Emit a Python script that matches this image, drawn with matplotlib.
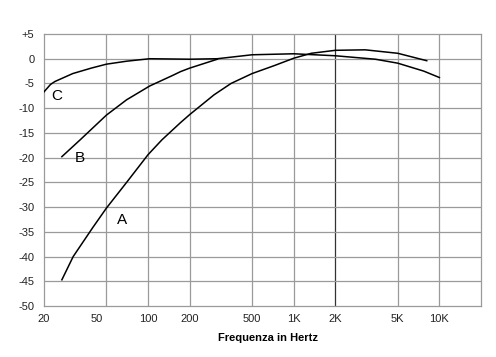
import numpy as np
import matplotlib
matplotlib.use("Agg")
import matplotlib.pyplot as plt
from matplotlib.transforms import ScaledTranslation

# frequency grid of the chart (Hz) and the uneven spacing it is drawn with
grid_freqs = [20, 50, 100, 200, 500, 1000, 2000, 5000, 10000, 20000]
grid_pos = [0, 1.5, 2.5, 3.5, 5, 6, 7, 8.5, 9.5, 10.5]
tick_freqs = [20, 50, 100, 200, 500, 1000, 2000, 5000, 10000]
tick_labels = ['20', '50', '100', '200', '500', '1K', '2K', '5K', '10K']
db_ticks = list(range(-50, 10, 5))
db_labels = ['+5' if v > 0 else str(v) for v in db_ticks]

# curve A
a_freq = [26, 30.7, 41, 50, 70, 100, 126, 172, 200, 286, 367, 500, 722, 1000, 1340, 2000, 3100, 5000, 8100]
a_db = [-44.7, -40, -34.1, -30.2, -25.0, -19.4, -16.4, -12.9, -11.3, -7.3, -5.0, -3.0, -1.4, 0.1, 1.1, 1.7, 1.8, 1.1, -0.4]
# curve B
b_freq = [26, 34, 50, 70, 103, 150, 172, 200, 300]
b_db = [-19.8, -16.4, -11.4, -8.3, -5.5, -3.4, -2.6, -1.9, -0.1]
# curve C
c_freq = [20, 22, 23.5, 30.5, 40, 50, 70, 88, 103, 200, 300, 500, 1000, 2000, 3600, 5000, 7700, 10000]
c_db = [-6.7, -5.2, -4.6, -3.0, -1.9, -1.1, -0.5, -0.2, 0.0, -0.1, 0.0, 0.8, 1.0, 0.6, -0.1, -0.9, -2.5, -3.8]

lg = np.log10(grid_freqs)


def fwd(f):
    f = np.clip(np.asarray(f, dtype=float), 1e-6, None)
    return np.interp(np.log10(f), lg, grid_pos)


def inv(u):
    return 10 ** np.interp(np.asarray(u, dtype=float), grid_pos, lg)


plt.rcParams['font.family'] = ['Liberation Sans', 'DejaVu Sans']

fig = plt.figure(figsize=(4.96, 3.57), dpi=100)
ax = fig.add_axes([44/496, 1-306/357, (481-44)/496, (306-34)/357])
ax.set_xscale('function', functions=(fwd, inv))
ax.set_xlim(20, 20000)
ax.set_ylim(-50, 5)

grid_col = '#9a9a9a'
for f in tick_freqs[1:]:
    ax.axvline(f, color='#333333' if f == 2000 else grid_col, lw=0.9, zorder=1)
for v in db_ticks[1:-1]:
    ax.axhline(v, color=grid_col, lw=0.9, zorder=1)
for s in ax.spines.values():
    s.set_color(grid_col)
    s.set_linewidth(0.9)

ax.plot(a_freq, a_db, color='black', lw=1.1, zorder=3)
ax.plot(b_freq, b_db, color='black', lw=1.1, zorder=3)
ax.plot(c_freq, c_db, color='black', lw=1.1, zorder=3)

ax.text(24.2, -7.5, 'C', fontsize=11, ha='center', va='center')
ax.text(33.8, -20.1, 'B', fontsize=11, ha='center', va='center')
ax.text(64.4, -32.6, 'A', fontsize=11, ha='center', va='center')

ax.set_xticks(tick_freqs)
ax.set_xticklabels(tick_labels)
ax.set_yticks(db_ticks)
ax.set_yticklabels(db_labels)
ax.tick_params(axis='both', length=0, labelsize=8, colors='#222222')
ax.tick_params(axis='y', pad=7)
ax.tick_params(axis='x', pad=6)

# the "50" label sits a little left of its grid line in the original
lab50 = ax.xaxis.get_major_ticks()[1].label1
lab50.set_transform(lab50.get_transform() + ScaledTranslation(-0.10, 0, fig.dpi_scale_trans))

fig.text(268/496, 1-338/357, 'Frequenza in Hertz', fontsize=8, fontweight='bold',
         ha='center', va='center')

fig.savefig('out.png', dpi=100)
